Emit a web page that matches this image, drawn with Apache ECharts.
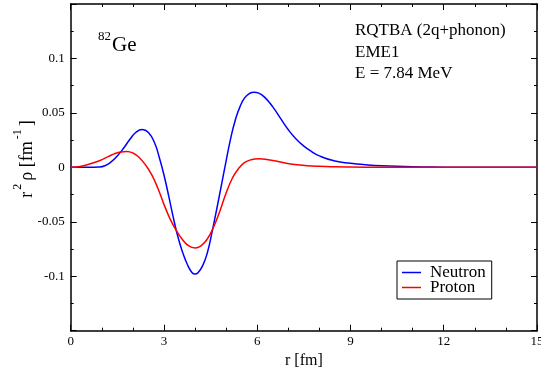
<!DOCTYPE html>
<html>
<head>
<meta charset="utf-8">
<script src="https://cdn.jsdelivr.net/npm/echarts@6/dist/echarts.min.js"></script>
<style>
  html, body { margin: 0; padding: 0; background: #fff; }
  #chart { width: 541px; height: 369px; }
</style>
</head>
<body>
<div id="chart"></div>
<script>
// Neutron: r [fm] and r^2 rho [fm^-1]
var rNeutron = [0,0.6,0.9,1.1,1.3,1.5,1.7,1.9,2.1,2.3,2.5,2.7,2.85,3.0,3.15,3.3,3.45,3.6,3.75,3.9,4.0,4.1,4.25,4.4,4.55,4.7,4.85,5.0,5.15,5.3,5.45,5.6,5.75,5.9,6.05,6.25,6.5,6.75,7.0,7.25,7.5,7.75,8.0,8.5,9.0,9.5,10,11,12,13,14,15];
var neutron  = [0,0,0.0003,0.0015,0.0050,0.0105,0.0175,0.0255,0.0322,0.0347,0.0320,0.0223,0.009,-0.007,-0.026,-0.046,-0.064,-0.078,-0.089,-0.0965,-0.098,-0.0965,-0.090,-0.078,-0.059,-0.038,-0.016,0.006,0.027,0.044,0.056,0.064,0.0678,0.069,0.0682,0.064,0.0555,0.045,0.0345,0.026,0.0195,0.0145,0.0105,0.0058,0.0037,0.0023,0.0014,0.0005,0.0002,0.0001,0,0];
// Proton: r [fm] and r^2 rho [fm^-1]
var rProton = [0,0.3,0.6,0.9,1.2,1.4,1.6,1.8,2.0,2.2,2.4,2.6,2.8,3.0,3.2,3.4,3.6,3.8,4.0,4.2,4.4,4.6,4.8,5.0,5.2,5.4,5.6,5.8,6.05,6.3,6.6,6.9,7.2,7.6,8.0,8.5,9.0,10,11,15];
var proton  = [0,0.0008,0.0030,0.0058,0.0098,0.0124,0.0140,0.0146,0.0132,0.0090,0.0025,-0.0065,-0.0190,-0.0340,-0.0475,-0.0580,-0.0665,-0.0722,-0.0740,-0.0718,-0.0655,-0.0545,-0.0400,-0.0235,-0.0100,-0.0010,0.0045,0.0069,0.0078,0.0073,0.0058,0.0040,0.0026,0.0015,0.0009,0.0005,0.0003,0.0001,0,0];
var xTicks = [0,3,6,9,12,15];
var yTickLabels = [-0.1,-0.05,0,0.05,0.1];
var seriesNames = ['Neutron','Proton'];

function pairs(xs, ys) { return xs.map(function (x, i) { return [x, ys[i]]; }); }

var FONT = '"Liberation Serif", "DejaVu Serif", serif';
var chart = echarts.init(document.getElementById('chart'), null, { renderer: 'canvas' });

var axisCommon = {
  axisLine: { show: true, onZero: false, lineStyle: { color: '#000', width: 1.5 } },
  axisTick: { show: true, inside: true, length: 6, lineStyle: { color: '#000', width: 1 } },
  minorTick: { show: true, length: 3, lineStyle: { color: '#000', width: 1 } },
  splitLine: { show: false }
};

chart.setOption({
  animation: false,
  backgroundColor: '#fff',
  grid: { left: 70.7, right: 4, top: 4, bottom: 38.3, containLabel: false, outerBoundsMode: 'none' },
  xAxis: [
    Object.assign({}, axisCommon, {
      type: 'value', position: 'bottom', min: 0, max: 15, interval: 3,
      minorTick: Object.assign({}, axisCommon.minorTick, { splitNumber: 3 }),
      axisLabel: { color: '#000', fontFamily: FONT, fontSize: 13, margin: 4, hideOverlap: false,
        formatter: function (v) { return xTicks.indexOf(v) >= 0 ? String(v) : ''; } },
      name: 'r [fm]', nameLocation: 'middle', nameGap: 17,
      nameTextStyle: { color: '#000', fontFamily: FONT, fontSize: 16 }
    }),
    Object.assign({}, axisCommon, {
      type: 'value', position: 'top', min: 0, max: 15, interval: 3,
      minorTick: Object.assign({}, axisCommon.minorTick, { splitNumber: 3 }),
      axisLabel: { show: false }
    })
  ],
  yAxis: [
    Object.assign({}, axisCommon, {
      type: 'value', position: 'left', min: -0.15, max: 0.15, interval: 0.05,
      minorTick: Object.assign({}, axisCommon.minorTick, { splitNumber: 2 }),
      axisLabel: { color: '#000', fontFamily: FONT, fontSize: 13, margin: 6,
        formatter: function (v) {
          var r = Math.round(v * 1000) / 1000;
          for (var i = 0; i < yTickLabels.length; i++) {
            if (Math.abs(yTickLabels[i] - r) < 1e-6) return String(yTickLabels[i]);
          }
          return '';
        } }
    }),
    Object.assign({}, axisCommon, {
      type: 'value', position: 'right', min: -0.15, max: 0.15, interval: 0.05,
      minorTick: Object.assign({}, axisCommon.minorTick, { splitNumber: 2 }),
      axisLabel: { show: false }
    })
  ],
  legend: {
    show: true, orient: 'vertical', left: 397, top: 261,
    data: seriesNames,
    icon: 'rect', itemWidth: 19, itemHeight: 1.5, itemGap: -2,
    borderColor: '#000', borderWidth: 1, borderRadius: 0,
    padding: [3, 6, 3, 5],
    textStyle: { color: '#000', fontFamily: FONT, fontSize: 17, padding: [0, 0, 0, 4] }
  },
  series: [
    { name: seriesNames[0], type: 'line', data: pairs(rNeutron, neutron), smooth: 0.5,
      showSymbol: false, symbol: 'none', color: '#0000ff',
      lineStyle: { color: '#0000ff', width: 1.5 }, z: 3 },
    { name: seriesNames[1], type: 'line', data: pairs(rProton, proton), smooth: 0.5,
      showSymbol: false, symbol: 'none', color: '#ff0000',
      lineStyle: { color: '#ff0000', width: 1.5 }, z: 4 }
  ],
  graphic: [
    { type: 'text', left: 98, top: 30, style: {
        text: '{s|82}{b|Ge}', fontFamily: FONT,
        rich: {
          s: { fontFamily: FONT, fontSize: 13, verticalAlign: 'top', lineHeight: 13, fill: '#000', padding: [0, 1, 0, 0] },
          b: { fontFamily: FONT, fontSize: 21, verticalAlign: 'bottom', lineHeight: 26, fill: '#000' }
        } } },
    { type: 'text', left: 355, top: 22, style: { text: 'RQTBA (2q+phonon)', font: '17px ' + FONT, fill: '#000' } },
    { type: 'text', left: 355, top: 44, style: { text: 'EME1', font: '17px ' + FONT, fill: '#000' } },
    { type: 'text', left: 355, top: 65, style: { text: 'E = 7.84 MeV', font: '17px ' + FONT, fill: '#000' } },
    { type: 'text', x: 24, y: 159, rotation: Math.PI / 2, style: {
        text: '{b|r}{s|2}{b|ρ [fm}{s|-1}{b|]}', align: 'center', verticalAlign: 'middle', fontFamily: FONT,
        rich: {
          s: { fontFamily: FONT, fontSize: 12, verticalAlign: 'top', lineHeight: 12, fill: '#000', padding: [0, 3, 0, 2] },
          b: { fontFamily: FONT, fontSize: 18, verticalAlign: 'bottom', lineHeight: 24, fill: '#000' }
        } } }
  ]
});
</script>
</body>
</html>
